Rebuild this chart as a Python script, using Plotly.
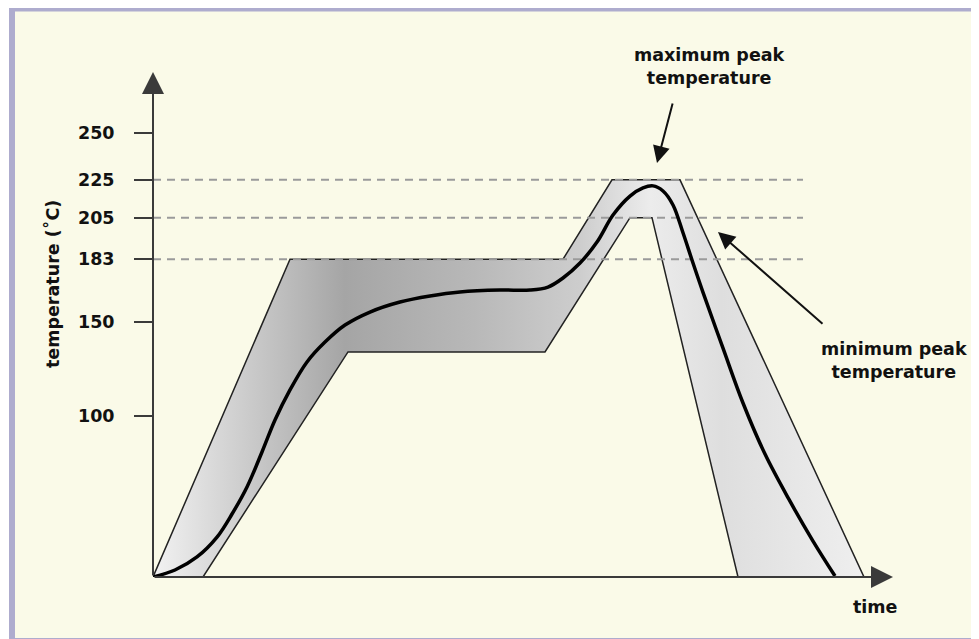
import plotly.graph_objects as go

# reflow profile - schematic, time in arbitrary units, temperature in degC
T_FLOOR, T_TOP = 15, 282
T_END = 370

# tolerance band outline (upper edge then back along lower edge)
band_time = [0, 68.5, 205, 229.5, 263.5, 355.5, 292.5, 249.5, 238.5, 196, 97.5, 25, 0]
band_temp = [15, 183, 183, 225, 225, 15, 15, 205, 205, 134, 134, 15, 15]

# typical profile
curve_time = [0, 11, 22, 32, 39.5, 47, 54.5, 61, 68.5, 77, 86, 96, 108.5, 123.5, 138.5,
              153.5, 173.5, 188.5, 197.5, 205, 213.5, 222, 230, 238.5, 245, 250, 255, 260,
              265, 270, 275, 285, 295, 306, 318, 330, 341]
curve_temp = [15, 18.7, 25.6, 36.1, 48.3, 62.6, 81.1, 98.0, 113.9, 128.7, 139.2, 148.2,
              155.1, 160.4, 163.6, 165.7, 166.7, 166.7, 168.3, 173.1, 181.0, 192.1, 206.4,
              216.4, 220.7, 221.8, 219.1, 211.7, 197, 181, 165.5, 136, 107, 80, 56,
              34, 15.5]

limit_temps = [225, 205, 183]
limit_end = 325

tick_vals = [100, 150, 183, 205, 225, 250]
tick_text = ["100", "150", "183", "205", "225", "250"]

# layout in screen pixels (page body adds an 8px margin)
OFF = 8
W, H = 979 - OFF, 639 - OFF
ML, MT = 153 - OFF, 72 - OFF
PW, PH = 740, 505
MR, MB = W - ML - PW, H - MT - PH


def px(x):
    return (x - OFF - ML) / PW


def py(y):
    return (MT + PH - (y - OFF)) / PH


FONT = "DejaVu Sans"
INK = "#111111"
AXIS = "#3a3a3a"

fig = go.Figure()

fig.add_trace(go.Scatter(
    x=band_time, y=band_temp, mode="lines", fill="toself",
    line=dict(color="#222222", width=1.5),
    fillgradient=dict(
        type="horizontal",
        colorscale=[[0, "#f2f2f2"], [0.12, "#cfcfcf"], [0.27, "#a5a5a5"], [0.45, "#b8b8b8"],
                    [0.6, "#cdcdcd"], [0.7, "#ececec"], [0.8, "#dedede"], [1, "#efefef"]],
    ),
    hoverinfo="skip", showlegend=False,
))

for t in limit_temps:
    fig.add_trace(go.Scatter(
        x=[0, limit_end], y=[t, t], mode="lines",
        line=dict(color="#9a9a9a", width=2, dash="8px,6px"),
        hoverinfo="skip", showlegend=False,
    ))

fig.add_trace(go.Scatter(
    x=curve_time, y=curve_temp, mode="lines",
    line=dict(color="#000000", width=3.5, shape="spline", smoothing=1.0),
    hoverinfo="skip", showlegend=False,
))

# axes with arrow heads
fig.add_annotation(x=0, y=T_TOP, ax=0, ay=T_FLOOR, xref="x", yref="y", axref="x", ayref="y",
                   text="", showarrow=True, arrowhead=2, arrowsize=2.2, arrowwidth=2, arrowcolor=AXIS)
fig.add_annotation(x=T_END, y=T_FLOOR, ax=0, ay=T_FLOOR, xref="x", yref="y", axref="x", ayref="y",
                   text="", showarrow=True, arrowhead=2, arrowsize=2.2, arrowwidth=2, arrowcolor=AXIS)

# pointer arrows (head position, tail offset in pixels)
fig.add_annotation(x=px(657), y=py(163), ax=16, ay=-61, xref="paper", yref="paper",
                   axref="pixel", ayref="pixel", text="", showarrow=True,
                   arrowhead=2, arrowsize=1.7, arrowwidth=2, arrowcolor=INK)
fig.add_annotation(x=px(718), y=py(232), ax=106, ay=93, xref="paper", yref="paper",
                   axref="pixel", ayref="pixel", text="", showarrow=True,
                   arrowhead=2, arrowsize=1.7, arrowwidth=2, arrowcolor=INK)

labels = [
    ("maximum peak<br>temperature", 709, 67, 0),
    ("minimum peak<br>temperature", 894, 360, 0),
    ("time", 875, 607, 0),
    ("temperature (˚C)", 52, 284, -90),
]
for txt, lx, ly, ang in labels:
    fig.add_annotation(x=px(lx), y=py(ly), xref="paper", yref="paper", text=txt,
                       showarrow=False, textangle=ang, xanchor="center", yanchor="middle",
                       font=dict(family=FONT, size=17.5, color=INK, weight="bold"))

# cream panel with lavender frame
fig.add_shape(type="rect", xref="paper", yref="paper",
              x0=px(12), x1=px(995), y0=py(641), y1=py(8.5),
              line=dict(color="#aeacce", width=6), fillcolor="#fafae8", layer="below")

fig.update_layout(
    width=W, height=H,
    margin=dict(l=ML, r=MR, t=MT, b=MB),
    paper_bgcolor="white",
    plot_bgcolor="rgba(0,0,0,0)",
    font=dict(family=FONT, color=INK),
)
fig.update_xaxes(range=[0, T_END], showgrid=False, zeroline=False, showline=False,
                 showticklabels=False, ticks="")
fig.update_yaxes(range=[T_FLOOR, T_TOP], showgrid=False, zeroline=False, showline=False,
                 tickvals=tick_vals, ticktext=tick_text, ticks="outside", ticklen=18,
                 tickwidth=2, tickcolor=AXIS, ticklabelstandoff=16,
                 tickfont=dict(family=FONT, size=17.5, color=INK, weight="bold"))

fig.write_html("out.html")
